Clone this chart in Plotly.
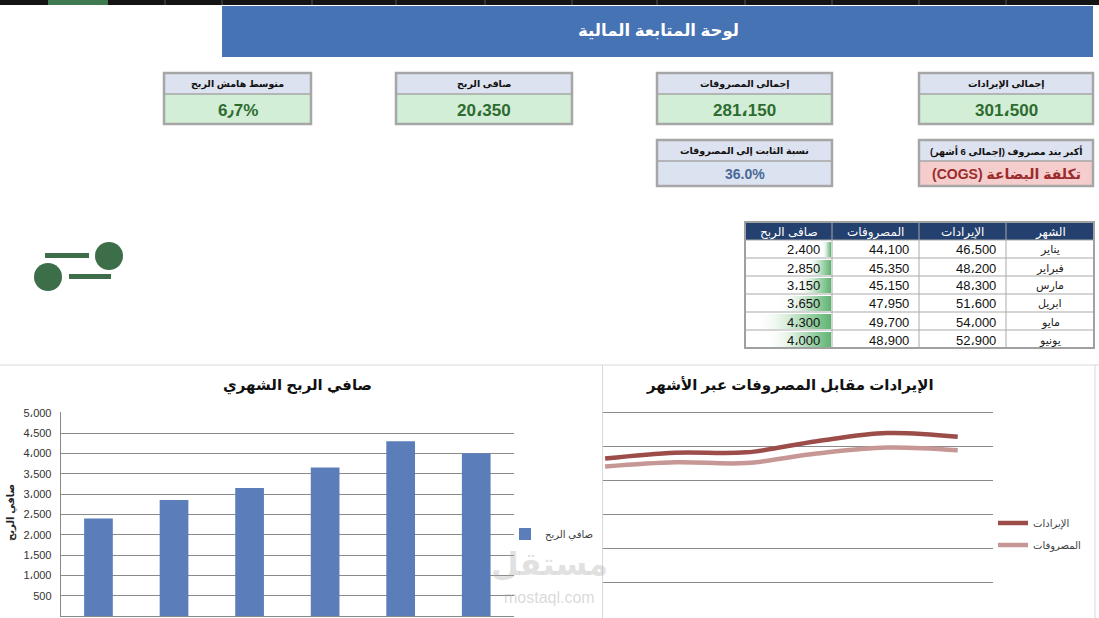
import plotly.graph_objects as go

# ---------------- data ----------------
months = ["يناير", "فبراير", "مارس", "ابريل", "مايو", "يونيو"]
revenue = [46500, 48200, 48300, 51600, 54000, 52900]
expenses = [44100, 45350, 45150, 47950, 49700, 48900]
net_profit = [2400, 2850, 3150, 3650, 4300, 4000]

bar_ticks = [0, 500, 1000, 1500, 2000, 2500, 3000, 3500, 4000, 4500, 5000]
line_ticks = [0, 10000, 20000, 30000, 40000, 50000, 60000]

dashboard_title = "لوحة المتابعة المالية"
bar_title = "صافي الربح الشهري"
line_title = "الإيرادات مقابل المصروفات عبر الأشهر"
bar_series_name = "صافي الربح"
rev_name = "الإيرادات"
exp_name = "المصروفات"

kpi_titles = ["إجمالى الإيرادات", "إجمالى المصروفات", "صافى الربح", "متوسط هامش الربح"]
kpi_values = ["301،500", "281،150", "20،350", "6٫7%"]
kpi2_titles = ["أكبر بند مصروف (إجمالى 6 أشهر)", "نسبة الثابت إلى المصروفات"]
kpi2_values = ["تكلفة البضاعة (COGS)", "36.0%"]

table_headers = ["الشهر", "الإيرادات", "المصروفات", "صافى الربح"]

# ---------------- helpers ----------------
W, H = 1099, 618
FONT = "Arial, Liberation Sans, DejaVu Sans, sans-serif"
RLE, PDF = "\u202B", "\u202C"


def px(x):
    return x / W


def py(y):
    return 1 - y / H


def fmt(v):
    return f"{v:,}".replace(",", "،")


shapes = []
annotations = []


def rect(x0, y0, x1, y1, fill=None, line=None, lw=0, layer="below"):
    shapes.append(dict(type="rect", xref="paper", yref="paper",
                       x0=px(x0), x1=px(x1), y0=py(y1), y1=py(y0),
                       fillcolor=fill or "rgba(0,0,0,0)",
                       line=dict(color=line or "rgba(0,0,0,0)", width=lw),
                       layer=layer))


def hline(x0, x1, y, color, lw=1, layer="below"):
    shapes.append(dict(type="line", xref="paper", yref="paper",
                       x0=px(x0), x1=px(x1), y0=py(y), y1=py(y),
                       line=dict(color=color, width=lw), layer=layer))


def vline(x, y0, y1, color, lw=1, layer="below"):
    shapes.append(dict(type="line", xref="paper", yref="paper",
                       x0=px(x), x1=px(x), y0=py(y0), y1=py(y1),
                       line=dict(color=color, width=lw), layer=layer))


def circle(cx, cy, r, color):
    shapes.append(dict(type="circle", xref="paper", yref="paper",
                       x0=px(cx - r), x1=px(cx + r), y0=py(cy + r), y1=py(cy - r),
                       fillcolor=color, line=dict(width=0), layer="below"))


def text(x, y, s, size, color, bold=False, xanchor="center", angle=0, rtl=False):
    if rtl:
        s = RLE + s + PDF
    annotations.append(dict(x=px(x), y=py(y), xref="paper", yref="paper",
                            text=f"<b>{s}</b>" if bold else s, showarrow=False,
                            font=dict(size=size, color=color, family=FONT),
                            xanchor=xanchor, yanchor="middle", textangle=angle))


# ---------------- top strip & banner ----------------
rect(0, 0, W, 5, fill="#141414")
rect(48, 0, 108, 5, fill="#3F7A50")
for xs in [165, 222, 312, 396, 485, 572, 657, 745, 832, 919, 1006]:
    vline(xs, 0, 5, "#555555", 1)
rect(222, 6, 1093, 57, fill="#4673B4")
text(658, 31, dashboard_title, 16.5, "white", bold=True)

# ---------------- KPI cards ----------------
BORDER = "#A6A6A6"
HEAD_FILL = "#DCE2EF"
card_x = [(919, 1093), (657, 832), (396, 572), (164, 311)]
for (x0, x1), t, v in zip(card_x, kpi_titles, kpi_values):
    rect(x0, 73, x1, 94, fill=HEAD_FILL)
    rect(x0, 94, x1, 124, fill="#D3EED6")
    hline(x0, x1, 94, BORDER, 1.5)
    rect(x0, 73, x1, 124, line=BORDER, lw=2.5)
    text((x0 + x1) / 2, 84, t, 9.5, "#111111", bold=True)
    text((x0 + x1) / 2, 110, v, 17, "#2E6B30", bold=True)

card2_x = [(919, 1093), (657, 832)]
card2_fill = ["#F5CDCD", "#DCE3F0"]
card2_color = ["#9B2B2B", "#4A6898"]
card2_size = [14, 14]
for (x0, x1), t, v, f, c, s in zip(card2_x, kpi2_titles, kpi2_values, card2_fill, card2_color, card2_size):
    rect(x0, 140, x1, 161, fill=HEAD_FILL)
    rect(x0, 161, x1, 186, fill=f)
    hline(x0, x1, 161, BORDER, 1.5)
    rect(x0, 140, x1, 186, line=BORDER, lw=2.5)
    text((x0 + x1) / 2, 151, t, 9.5, "#111111", bold=True, rtl=True)
    text((x0 + x1) / 2, 174, v, s, c, bold=True, rtl=("(" in v))

# ---------------- icon ----------------
ICON = "#3B6E49"
rect(45, 253, 89, 258, fill=ICON)
rect(69, 274, 111, 279, fill=ICON)
circle(109, 256, 14, ICON)
circle(48, 277, 14, ICON)

# ---------------- table ----------------
col_edges = [1094, 1006, 919, 832, 745]   # right-to-left
row_top = 222
head_h = 18
row_h = 18
rect(745, row_top, 1094, row_top + head_h, fill="#24406E")
for i, h in enumerate(table_headers):
    text((col_edges[i] + col_edges[i + 1]) / 2, row_top + head_h / 2 + 1, h, 12, "white")

pmin, pmax = min(net_profit), max(net_profit)
for r in range(len(months)):
    y0 = row_top + head_h + r * row_h
    y1 = y0 + row_h
    rect(745, y0, 1094, y1, fill="white")
    cy = (y0 + y1) / 2 + 1
    text((col_edges[0] + col_edges[1]) / 2, cy, months[r], 11, "#222222")
    text(col_edges[1] - 8, cy, fmt(revenue[r]), 13, "#111111", xanchor="right")
    text(col_edges[2] - 8, cy, fmt(expenses[r]), 13, "#111111", xanchor="right")
    text(col_edges[3] - 10, cy, fmt(net_profit[r]), 13, "#111111", xanchor="right")
for r in range(len(months) + 1):
    hline(745, 1094, row_top + head_h + r * row_h, "#A9A9A9", 1, layer="above")
for xe in col_edges[1:-1]:
    vline(xe, row_top, row_top + head_h + len(months) * row_h, "#A9A9A9", 1, layer="above")
rect(745, row_top, 1094, row_top + head_h + len(months) * row_h, line="#A0A0A0", lw=2, layer="above")

# ---------------- chart panels ----------------
hline(0, W, 365, "#D9D9D9", 1)
vline(602.5, 365, H, "#D9D9D9", 1)
vline(1095, 365, H, "#D9D9D9", 1)

text(297, 385, bar_title, 15, "#111111", bold=True)
text(790, 385, line_title, 15, "#111111", bold=True)
text(11, 513, bar_series_name, 10, "#222222", bold=True, angle=-90)

# watermark
text(549, 564, "مستقل", 32, "rgba(170,170,170,0.35)", bold=True)
text(549, 597, "mostaql.com", 16, "rgba(170,170,170,0.45)")

fig = go.Figure()

fig.add_trace(go.Bar(x=months, y=net_profit, name=bar_series_name,
                     marker=dict(color="#5B7EBA", line=dict(width=0)),
                     xaxis="x", yaxis="y", legend="legend", hoverinfo="skip"))

fig.add_trace(go.Scatter(x=months, y=revenue, name=rev_name, mode="lines",
                         line=dict(color="#9C4D4A", width=4.5, shape="spline", smoothing=1.0),
                         xaxis="x2", yaxis="y2", legend="legend2", legendgroup="rev",
                         hoverinfo="skip"))
fig.add_trace(go.Scatter(x=months, y=expenses, name=exp_name, mode="lines",
                         line=dict(color="#C69794", width=4.5, shape="spline", smoothing=1.0),
                         xaxis="x2", yaxis="y2", legend="legend2", legendgroup="exp",
                         hoverinfo="skip"))

# data bars in the table (anchored right, gradient fading to white)
cell_w = 86
for r, v in enumerate(net_profit):
    y0 = row_top + head_h + r * row_h + 2
    y1 = y0 + row_h - 3
    length = cell_w * (0.1 + 0.8 * (v - pmin) / (pmax - pmin))
    xr = 831
    xl = xr - length
    fig.add_trace(go.Scatter(x=[xl, xr, xr, xl, xl], y=[y0, y0, y1, y1, y0],
                             mode="lines", fill="toself", line=dict(width=0),
                             fillgradient=dict(type="horizontal",
                                               colorscale=[[0, "rgba(255,255,255,0)"],
                                                           [0.55, "#BFE2C6"],
                                                           [1, "#5FB472"]]),
                             xaxis="x3", yaxis="y3", showlegend=False, hoverinfo="skip"))

GRID = "#8A8A8A"
line_top = 60000
fig.update_layout(
    width=W, height=H, autosize=False,
    margin=dict(l=0, r=0, t=0, b=0, autoexpand=False),
    paper_bgcolor="white", plot_bgcolor="rgba(0,0,0,0)",
    font=dict(family=FONT),
    shapes=shapes, annotations=annotations,
    bargap=0.62,
    xaxis=dict(domain=[px(60.7), px(514)], type="category", showticklabels=False,
               showgrid=False, showline=True, linecolor=GRID, ticks="", anchor="y",
               fixedrange=True, automargin=False),
    yaxis=dict(domain=[py(616), py(412.3)], range=[0, 5010], anchor="x",
               tickvals=bar_ticks, ticktext=["-" if t == 0 else fmt(t) for t in bar_ticks],
               tickfont=dict(size=11, color="#333333"), showgrid=True, gridcolor=GRID,
               gridwidth=1, showline=True, linecolor=GRID, zeroline=False, ticks="",
               ticklabelstandoff=6, automargin=False),
    xaxis2=dict(domain=[px(603), px(993)], type="category", range=[-0.03, 5.5],
                showticklabels=False, showgrid=False, showline=False, zeroline=False,
                anchor="y2", automargin=False),
    yaxis2=dict(domain=[py(616), py(411.7)], range=[0, line_top * 1.005], anchor="x2",
                tickvals=line_ticks, showticklabels=False, showgrid=True,
                gridcolor=GRID, gridwidth=1, zeroline=False, showline=False,
                automargin=False),
    xaxis3=dict(domain=[0, 1], range=[0, W], visible=False, anchor="y3", fixedrange=True,
                automargin=False),
    yaxis3=dict(domain=[0, 1], range=[H, 0], visible=False, anchor="x3", fixedrange=True,
                automargin=False),
    legend=dict(x=px(505), y=py(534), xanchor="left", yanchor="middle",
                font=dict(size=10, color="#404040", family=FONT),
                bgcolor="rgba(0,0,0,0)"),
    legend2=dict(x=px(993), y=py(534), xanchor="left", yanchor="middle",
                 font=dict(size=10, color="#404040", family=FONT), tracegroupgap=3,
                 bgcolor="rgba(0,0,0,0)"),
    showlegend=True,
)

js = ("document.documentElement.style.margin='0';"
      "document.body.style.margin='0';document.body.style.padding='0';"
      "document.body.style.overflow='hidden';"
      "var d=document.getElementById('{plot_id}');"
      "d.style.position='fixed';d.style.left='0px';d.style.top='0px';d.style.margin='0';")
fig.write_html("out.html", post_script=js, config={"displayModeBar": False})
